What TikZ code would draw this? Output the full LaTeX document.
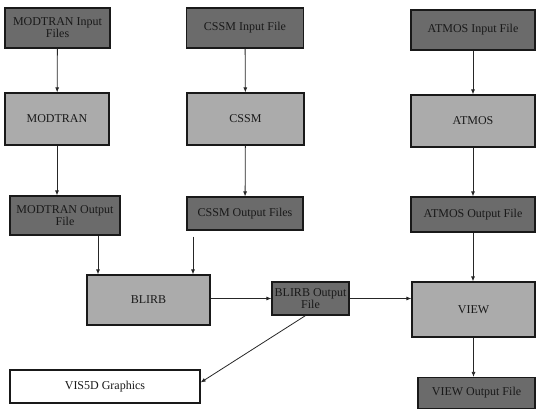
\documentclass[tikz,border=0pt]{standalone}
\usepackage{fontspec}
\setmainfont{Liberation Serif}
\usetikzlibrary{positioning,arrows.meta}

\begin{document}
\begin{tikzpicture}[
  x=1pt, y=-1pt,
  >={Latex[length=5pt,width=4pt]},
  box/.style={
    draw=black!90,
    line width=1.2pt,
    align=center,
    inner sep=1pt,
    font=\fontsize{12}{12}\selectfont,
    text=black!90
  },
  filebox/.style={box, fill=black!58},
  progbox/.style={box, fill=black!33},
  plainbox/.style={box, fill=white},
  edge/.style={->, line width=0.8pt, draw=black!85}
]
\useasboundingbox (0,0) rectangle (536,409);

% input files
\node[filebox, minimum width=105pt, minimum height=40pt] (modin) at (57.5,28) {MODTRAN Input\\Files};
\node[filebox, minimum width=117pt, minimum height=40pt] (cssmin) at (245,28) {CSSM Input File};
\node[filebox, minimum width=124pt, minimum height=40pt] (atmosin) at (473,30) {ATMOS Input File};

% programs
\node[progbox, minimum width=104pt, minimum height=52pt] (modtran) at (57,119) {MODTRAN};
\node[progbox, minimum width=117pt, minimum height=52pt] (cssm) at (245.5,119) {CSSM};
\node[progbox, minimum width=124pt, minimum height=52pt] (atmos) at (473,121) {ATMOS};

% output files
\node[filebox, minimum width=110pt, minimum height=39pt] (modout) at (65,215.5) {MODTRAN Output\\File};
\node[filebox, minimum width=116pt, minimum height=33pt] (cssmout) at (245,213.5) {CSSM Output Files};
\node[filebox, minimum width=124pt, minimum height=35pt] (atmosout) at (473,214.5) {ATMOS Output File};

\node[progbox, minimum width=123pt, minimum height=50pt] (blirb) at (148.5,300) {BLIRB};
\node[filebox, minimum width=77pt, minimum height=33pt] (blirbout) at (310.5,298.5) {BLIRB Output\\File};
\node[progbox, minimum width=123pt, minimum height=55pt] (view) at (473.5,309.5) {VIEW};
\node[filebox, minimum width=117pt, minimum height=31pt] (viewout) at (476.5,393) {VIEW Output File};
\node[plainbox, minimum width=190pt, minimum height=33pt] (vis5d) at (105,386.5) {VIS5D Graphics};

\draw[edge] (modin) -- (modtran);
\draw[edge] (modtran) -- (modtran |- modout.north);
\draw[edge] (cssmin) -- (cssm);
\draw[edge] (cssm) -- (cssmout);
\draw[edge] (atmosin) -- (atmos);
\draw[edge] (atmos) -- (atmosout);
\draw[edge] (atmosout) -- (atmosout |- view.north);
\draw[edge] (view) -- (view |- viewout.north);
\draw[edge] ([xshift=33pt]modout.south) -- ([xshift=33pt]modout.south |- blirb.north);
\draw[edge] ([xshift=-52pt,yshift=-6pt]cssmout.south) -- ([xshift=-52pt]cssmout.south |- blirb.north);
\draw[edge] (blirb.east |- blirbout) -- (blirbout.west);
\draw[edge] (blirbout.east) -- (blirbout.east -| view.west);
\draw[edge] ([xshift=-5pt]blirbout.south) -- ([yshift=4pt]vis5d.east);
\end{tikzpicture}
\end{document}
